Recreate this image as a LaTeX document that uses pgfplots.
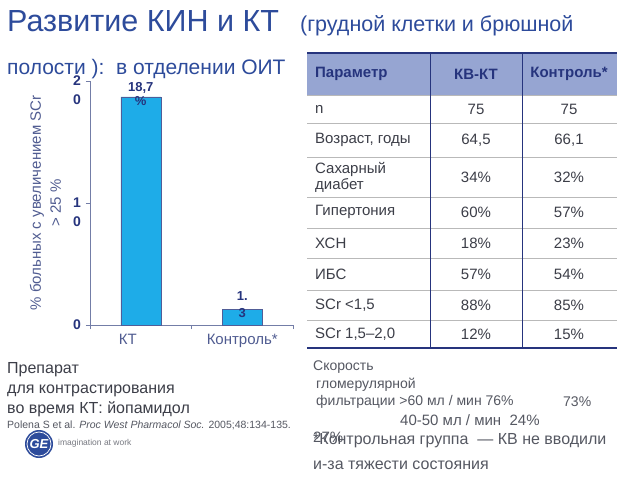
\documentclass[border=0pt]{standalone}
\usepackage{pgfplots}
\pgfplotsset{compat=1.18}
\usepackage{fontspec}
\setmainfont{Liberation Sans}
\definecolor{titleblue}{RGB}{45,75,155}
\definecolor{navy}{RGB}{38,52,125}
\definecolor{barblue}{RGB}{30,172,232}
\definecolor{hdr}{RGB}{150,165,210}
\definecolor{txtgray}{RGB}{60,62,72}
\definecolor{labgray}{RGB}{80,92,145}
\definecolor{botgray}{RGB}{85,88,98}
\begin{document}
\begin{tikzpicture}[x=1pt,y=1pt]
\path[fill=white] (0,0) rectangle (640,480);
% title
\node[anchor=base west, inner sep=0, text=titleblue, font=\fontsize{30.5}{34}\selectfont] at (7,448) {Развитие КИН и КТ};
\node[anchor=base west, inner sep=0, text=titleblue, font=\fontsize{21.5}{25}\selectfont] at (300,448) {(грудной клетки и брюшной};
\node[anchor=base west, inner sep=0, text=titleblue, font=\fontsize{21}{25}\selectfont] at (7,405) {полости ):\ \ в отделении ОИТ};

\begin{axis}[at={(90pt,155pt)}, anchor=south west, scale only axis,
  width=203pt, height=244pt, clip=false,
  xmin=-0.5, xmax=1.5, ymin=0, ymax=20,
  axis lines=left, axis line style={-, draw=labgray!80, line width=0.6pt},
  tick align=outside,
  xtick={0,1}, xticklabels={КТ\kern26pt\mbox{},Контроль*},
  x tick style={draw=none},
  extra x ticks={-0.5,0.5,1.5}, extra x tick labels={},
  extra x tick style={x tick style={draw=labgray!80, line width=0.6pt}, major tick length=4pt},
  xticklabel style={font=\fontsize{15}{18}\selectfont, text=labgray, yshift=-2pt},
  ytick={0,10,20}, yticklabels={0,{1\\0},{2\\0}},
  y tick style={draw=labgray!80, line width=0.6pt}, major tick length=4pt,
  yticklabel style={align=center, font=\bfseries\fontsize{14}{19}\selectfont, text=navy, anchor=north east, yshift=6pt, xshift=-4pt, inner sep=1pt},
  ylabel={\% больных с увеличением SCr\\> 25 \%},
  ylabel style={align=center, font=\fontsize{15}{20}\selectfont, text=labgray, at={(axis description cs:-0.22,0.5)}, anchor=center},
  /pgf/number format/assume math mode=true,
]
\addplot[ybar, bar width=40pt, fill=barblue, draw=navy!80, line width=0.5pt] coordinates {(0,18.7) (1,1.3)};
\node[align=center, font=\bfseries\fontsize{13}{14}\selectfont, text=navy, yshift=3pt] at (axis cs:0,18.7) {18,7\\\%};
\node[align=center, font=\bfseries\fontsize{13}{17}\selectfont, text=navy, yshift=5pt] at (axis cs:1,1.3) {1.\\3};
\end{axis}

% table
\fill[hdr] (307,385) rectangle (617,427);
\foreach \y in {385,357,323,283,252,222,190,160} \draw[gray!55, line width=0.6pt] (307,\y)--(617,\y);
\draw[navy, line width=1.6pt] (307,427)--(617,427);
\draw[navy, line width=1.6pt] (307,132)--(617,132);
\draw[navy, line width=0.8pt] (430,427)--(430,132);
\draw[navy, line width=0.8pt] (522,427)--(522,132);
\begin{scope}[every node/.style={inner sep=0, text=navy, font=\bfseries\fontsize{15}{18}\selectfont}]
\node[anchor=west] at (315,406) {Параметр};
\node at (476,406) {КВ-КТ};
\node at (569,406) {Контроль*};
\end{scope}
\begin{scope}[every node/.style={inner sep=0, text=txtgray, font=\fontsize{15}{16}\selectfont}]
\node[anchor=west] at (315,371) {n};
\node at (476,371) {75}; \node at (569,371) {75};
\node[anchor=west] at (315,340) {Возраст, годы};
\node at (476,340) {64,5}; \node at (569,340) {66,1};
\node[anchor=west, align=left] at (315,303) {Сахарный\\диабет};
\node at (476,303) {34\%}; \node at (569,303) {32\%};
\node[anchor=west] at (315,268) {Гипертония};
\node at (476,268) {60\%}; \node at (569,268) {57\%};
\node[anchor=west] at (315,237) {ХСН};
\node at (476,237) {18\%}; \node at (569,237) {23\%};
\node[anchor=west] at (315,206) {ИБС};
\node at (476,206) {57\%}; \node at (569,206) {54\%};
\node[anchor=west] at (315,175) {SCr <1,5};
\node at (476,175) {88\%}; \node at (569,175) {85\%};
\node[anchor=west] at (315,146) {SCr 1,5–2,0};
\node at (476,146) {12\%}; \node at (569,146) {15\%};
\end{scope}

% bottom left
\begin{scope}[every node/.style={inner sep=0, anchor=base west, text=txtgray, font=\fontsize{16}{18}\selectfont}]
\node at (7,107) {Препарат};
\node at (7,87) {для контрастирования};
\node at (7,67) {во время КТ: йопамидол};
\end{scope}
\node[inner sep=0, anchor=base west, text=botgray, font=\fontsize{10.5}{12}\selectfont] at (7,52) {Polena S et al. \textit{Proc West Pharmacol Soc.} 2005;48:134-135.};
\fill[titleblue] (39,36) circle (14);
\draw[white, line width=0.7pt] (39,36) circle (12);
\node[text=white, font=\bfseries\itshape\fontsize{13}{13}\selectfont] at (39,36) {GE};
\node[inner sep=0, anchor=west, text=botgray!80, font=\fontsize{8.5}{9}\selectfont] at (58,37) {imagination at work};

% bottom right
\begin{scope}[every node/.style={inner sep=0, anchor=west, text=botgray, font=\fontsize{14}{16}\selectfont}]
\node at (313,113) {Скорость};
\node at (316,95) {гломерулярной};
\node at (316,78) {фильтрации >60 мл / мин 76\%};
\node at (563,78) {73\%};
\node[font=\fontsize{15}{16}\selectfont] at (400,60) {40-50 мл / мин\ \ 24\%};
\node[font=\fontsize{15}{16}\selectfont] at (313,43) {27\%};
\node[font=\fontsize{16}{18}\selectfont] at (313,39) {*Контрольная группа\ \ — КВ не вводили};
\node[font=\fontsize{16}{18}\selectfont] at (313,15) {и-за тяжести состояния};
\end{scope}
\end{tikzpicture}
\end{document}
